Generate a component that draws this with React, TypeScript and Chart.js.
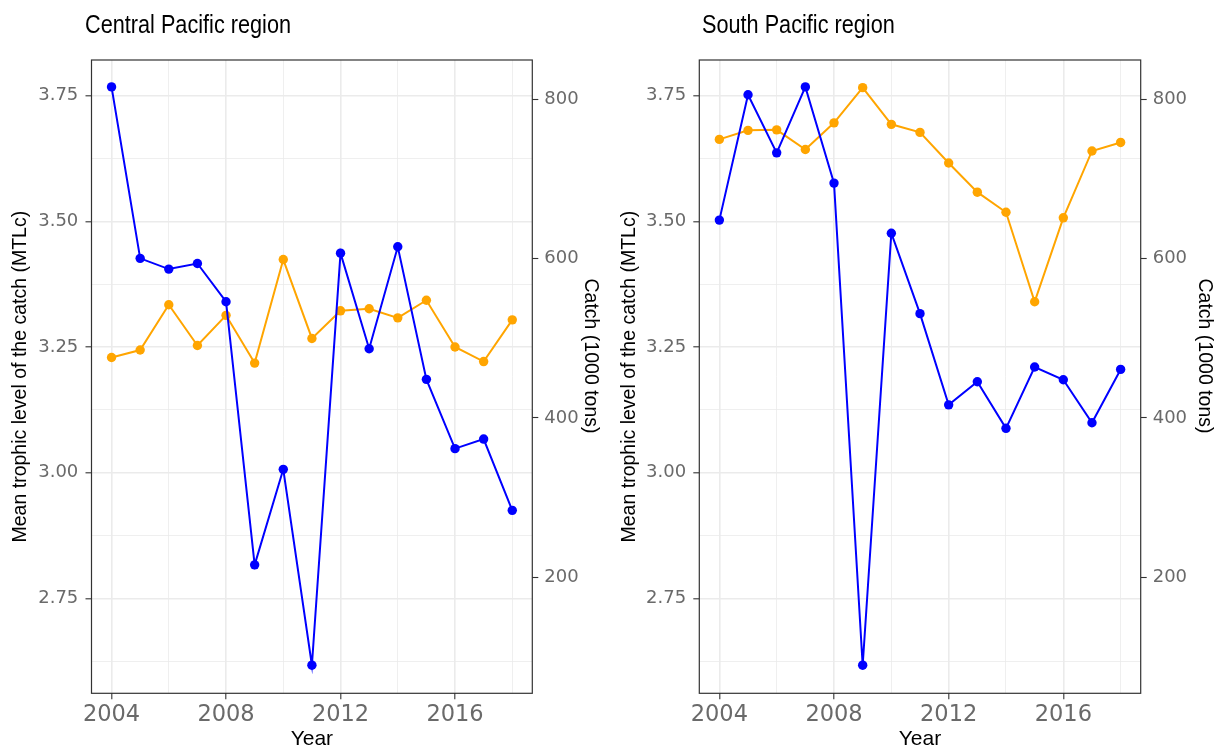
import React, { useEffect, useRef } from "react";
import { Chart, registerables } from "chart.js";

Chart.register(...registerables);

// Survey years
const years = [2004, 2005, 2006, 2007, 2008, 2009, 2010, 2011, 2012, 2013, 2014, 2015, 2016, 2017, 2018];

// Central Pacific: catch (1000 tons) and mean trophic level of the catch
const centralCatch = [815.8, 600.5, 587, 594, 546, 215.5, 335.5, 89.5, 607, 487, 615, 448.5, 361.5, 373.5, 284];
const centralMtl = [3.229, 3.244, 3.334, 3.253, 3.313, 3.218, 3.424, 3.267, 3.322, 3.326, 3.308, 3.343, 3.25, 3.221, 3.304];

// South Pacific: catch (1000 tons) and mean trophic level of the catch
const southCatch = [648.5, 806, 733, 815.8, 695, 89.5, 632, 531, 416.5, 445.5, 387, 464, 448, 394, 461];
const southMtl = [3.663, 3.681, 3.682, 3.643, 3.696, 3.766, 3.693, 3.677, 3.616, 3.558, 3.518, 3.34, 3.507, 3.64, 3.657];

// Axis ticks (labelled) and grid positions (labelled + minor)
const yearLabels = [2004, 2008, 2012, 2016];
const yearGrid = [2004, 2006, 2008, 2010, 2012, 2014, 2016, 2018];
const mtlLabels = [2.75, 3.0, 3.25, 3.5, 3.75];
const mtlGrid = [2.625, 2.75, 2.875, 3.0, 3.125, 3.25, 3.375, 3.5, 3.625, 3.75];
const catchLabels = [200, 400, 600, 800];

// Axis ranges (the catch axis is a linear rescaling of the MTL axis)
const YEAR_MIN = 2003.3;
const YEAR_MAX = 2018.7;
const MTL_MIN = 2.561;
const MTL_MAX = 3.821;
const CATCH_MIN = 54.2;
const CATCH_MAX = 849.6;

const BLUE = "#0000ff";
const ORANGE = "#ffa500";
const GRID = "#ebebeb";
const AXIS_DARK = "#333333";
const TICK_TEXT = "#6a6a6a";
const TICK_FONT = "'DejaVu Sans', 'Liberation Sans', sans-serif";
const LABEL_FONT = "'Liberation Sans', Arial, sans-serif";

const CANVAS_H = 746;

type PanelProps = {
  title: string;
  catchValues: number[];
  mtlValues: number[];
  left: number;
  width: number;
  leftAxisW: number;
  rightAxisW: number;
  titleX: number;
  leftTitlePad: number;
  rightTitleX: number;
};

const near = (list: number[], v: number) => list.some((t) => Math.abs(t - v) < 1e-6);

function Panel(props: PanelProps) {
  const ref = useRef<HTMLCanvasElement | null>(null);

  useEffect(() => {
    const canvas = ref.current;
    if (!canvas) return;

    const decor = {
      id: "panelDecor",
      afterDraw(chart: any) {
        const { ctx, chartArea } = chart;
        ctx.save();
        // panel border
        ctx.strokeStyle = AXIS_DARK;
        ctx.lineWidth = 1.2;
        ctx.strokeRect(chartArea.left, chartArea.top, chartArea.right - chartArea.left, chartArea.bottom - chartArea.top);
        // panel title, set in a condensed face
        ctx.save();
        ctx.fillStyle = "#000";
        ctx.font = `25.5px ${LABEL_FONT}`;
        ctx.textAlign = "left";
        ctx.textBaseline = "alphabetic";
        ctx.translate(props.titleX, 33.3);
        ctx.scale(0.85, 1);
        ctx.fillText(props.title, 0, 0);
        ctx.restore();
        // secondary axis title
        ctx.translate(props.rightTitleX, 356);
        ctx.rotate(Math.PI / 2);
        ctx.fillStyle = "#000";
        ctx.font = `19.5px ${LABEL_FONT}`;
        ctx.textAlign = "center";
        ctx.textBaseline = "middle";
        ctx.fillText("Catch (1000 tons)", 0, 0);
        ctx.restore();
      },
    };

    const chart = new Chart(canvas, {
      type: "line",
      data: {
        datasets: [
          {
            label: "Catch",
            yAxisID: "y1",
            data: years.map((yr, i) => ({ x: yr, y: props.catchValues[i] })),
            borderColor: BLUE,
            backgroundColor: BLUE,
            pointBackgroundColor: BLUE,
            pointBorderWidth: 0,
            pointRadius: 4.7,
            borderWidth: 2,
            tension: 0,
          },
          {
            label: "MTLc",
            yAxisID: "y",
            data: years.map((yr, i) => ({ x: yr, y: props.mtlValues[i] })),
            borderColor: ORANGE,
            backgroundColor: ORANGE,
            pointBackgroundColor: ORANGE,
            pointBorderWidth: 0,
            pointRadius: 4.7,
            borderWidth: 2,
            tension: 0,
          },
        ],
      },
      options: {
        responsive: false,
        animation: false,
        events: [],
        layout: { padding: { top: 60, left: 0, right: 0, bottom: 0 } },
        plugins: {
          legend: { display: false },
          tooltip: { enabled: false },
          title: { display: false },
        },
        scales: {
          x: {
            type: "linear",
            min: YEAR_MIN,
            max: YEAR_MAX,
            afterBuildTicks: (scale: any) => {
              scale.ticks = yearGrid.map((v) => ({ value: v }));
            },
            afterFit: (scale: any) => {
              scale.height = CANVAS_H - 693.3;
            },
            border: { display: false },
            grid: {
              color: GRID,
              lineWidth: (c: any) => (near(yearLabels, c.tick?.value) ? 1.6 : 0.8),
              tickColor: (c: any) => (near(yearLabels, c.tick?.value) ? AXIS_DARK : "rgba(0,0,0,0)"),
              tickLength: 6,
              tickWidth: 1.1,
              drawTicks: true,
            },
            ticks: {
              autoSkip: false,
              maxRotation: 0,
              padding: 2.2,
              color: TICK_TEXT,
              font: { family: TICK_FONT, size: 22.5 },
              callback: (v: any) => (near(yearLabels, Number(v)) ? String(v) : ""),
            },
            title: {
              display: true,
              text: "Year",
              color: "#000",
              font: { family: LABEL_FONT, size: 21, lineHeight: 0.62 },
              padding: { top: 0, bottom: 0 },
            },
          },
          y: {
            type: "linear",
            position: "left",
            min: MTL_MIN,
            max: MTL_MAX,
            afterBuildTicks: (scale: any) => {
              scale.ticks = mtlGrid.map((v) => ({ value: v }));
            },
            afterFit: (scale: any) => {
              scale.width = props.leftAxisW;
            },
            border: { display: false },
            grid: {
              color: GRID,
              lineWidth: (c: any) => (near(mtlLabels, c.tick?.value) ? 1.6 : 0.8),
              tickColor: (c: any) => (near(mtlLabels, c.tick?.value) ? AXIS_DARK : "rgba(0,0,0,0)"),
              tickLength: 6,
              tickWidth: 1.1,
              drawTicks: true,
            },
            ticks: {
              autoSkip: false,
              padding: 7.2,
              color: TICK_TEXT,
              font: { family: TICK_FONT, size: 18 },
              callback: (v: any) => (near(mtlLabels, Number(v)) ? Number(v).toFixed(2) : ""),
            },
            title: {
              display: true,
              text: "Mean trophic level of the catch (MTLc)",
              color: "#000",
              font: { family: LABEL_FONT, size: 19.5, lineHeight: 1 },
              padding: { top: props.leftTitlePad, bottom: 0 },
            },
          },
          y1: {
            type: "linear",
            position: "right",
            min: CATCH_MIN,
            max: CATCH_MAX,
            afterBuildTicks: (scale: any) => {
              scale.ticks = catchLabels.map((v) => ({ value: v }));
            },
            afterFit: (scale: any) => {
              scale.width = props.rightAxisW;
            },
            border: { display: false },
            grid: {
              drawOnChartArea: false,
              drawTicks: true,
              tickColor: AXIS_DARK,
              tickLength: 6,
              tickWidth: 1.1,
            },
            ticks: {
              autoSkip: false,
              padding: 6,
              color: TICK_TEXT,
              font: { family: TICK_FONT, size: 18 },
              callback: (v: any) => String(v),
            },
          },
        },
      },
      plugins: [decor],
    } as any);

    return () => chart.destroy();
  }, []);

  return (
    <canvas
      ref={ref}
      width={props.width}
      height={CANVAS_H}
      style={{ position: "absolute", left: props.left, top: 0, display: "block" }}
    />
  );
}

export default function App() {
  return (
    <div style={{ position: "absolute", left: 0, top: 0, width: 1215, height: CANVAS_H, background: "#fff", overflow: "hidden" }}>
      <Panel
        title="Central Pacific region"
        catchValues={centralCatch}
        mtlValues={centralMtl}
        left={0}
        width={607}
        leftAxisW={91.5}
        rightAxisW={74.7}
        titleX={85}
        leftTitlePad={10.7}
        rightTitleX={590}
      />
      <Panel
        title="South Pacific region"
        catchValues={southCatch}
        mtlValues={southMtl}
        left={607}
        width={608}
        leftAxisW={92.3}
        rightAxisW={74.3}
        titleX={95}
        leftTitlePad={12.7}
        rightTitleX={597}
      />
    </div>
  );
}
